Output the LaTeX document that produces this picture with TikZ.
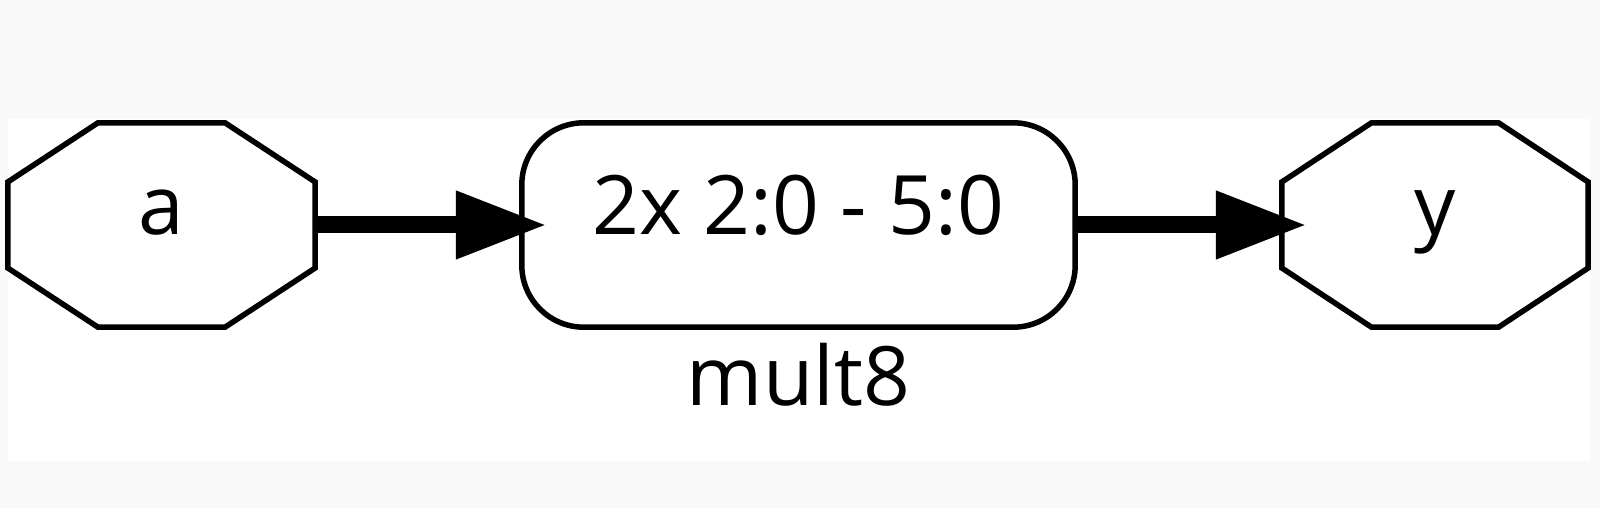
\documentclass[tikz,border=0pt]{standalone}
\usepackage{fontspec}
\setmainfont{Open Sans}
\usetikzlibrary{arrows.meta,calc}
\definecolor{pagebg}{HTML}{F9F9F9}
\tikzset{
  shapebox/.style={draw=none, inner sep=0pt, minimum height=204pt,
    text height=41pt, text depth=21pt, font=\fontsize{82pt}{96pt}\selectfont},
  outline/.style={draw=black, line width=5.5pt, line join=miter},
  wire/.style={draw=black, line width=17pt,
    -{Triangle[length=91pt,width=64pt]}},
}
\begin{document}
\begin{tikzpicture}[x=1pt,y=1pt]
  \fill[pagebg] (0,0) rectangle (1600,508);
  \useasboundingbox (0,0) rectangle (1600,508);
  \fill[white] (8,47) rectangle (1590,389);

  \node[shapebox, minimum width=307pt] (a) at (161.5,283) {a};
  \node[shapebox, minimum width=553pt] (m) at (798.5,283) {2x 2:0 - 5:0};
  \node[shapebox, minimum width=306pt] (y) at (1435,283) {y};

  \foreach \n in {a,y}{
    \draw[outline] ($(\n.west)+(0,43)$) -- ($(\n.north)+(-63.5,0)$) -- ($(\n.north)+(63.5,0)$)
      -- ($(\n.east)+(0,43)$) -- ($(\n.east)+(0,-43)$) -- ($(\n.south)+(63.5,0)$)
      -- ($(\n.south)+(-63.5,0)$) -- ($(\n.west)+(0,-43)$) -- cycle;
  }
  \draw[outline, rounded corners=62pt] (m.south west) rectangle (m.north east);

  \node[font=\fontsize{82pt}{96pt}\selectfont, anchor=base, inner sep=0pt] (lbl) at (798.5,102) {mult8};

  \draw[wire] (a.east) -- ([xshift=25pt]m.west);
  \draw[wire] (m.east) -- ([xshift=25pt]y.west);
\end{tikzpicture}
\end{document}
